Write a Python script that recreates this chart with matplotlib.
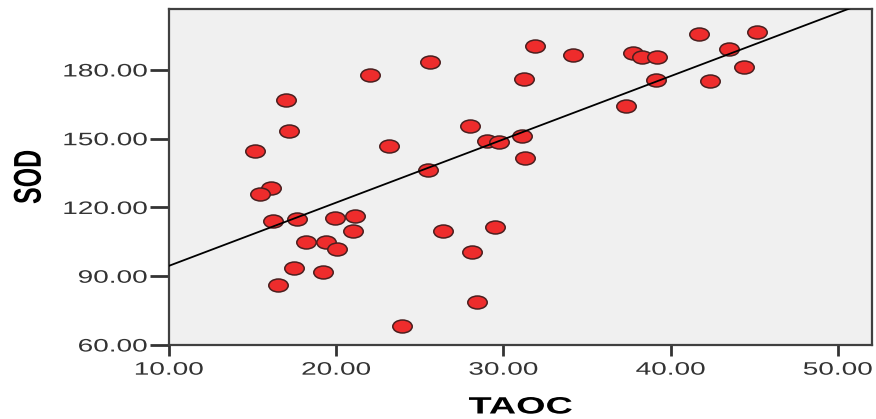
import numpy as np
import matplotlib
matplotlib.use("Agg")
import matplotlib.pyplot as plt
import matplotlib.patheffects as pe
from matplotlib.path import Path
from matplotlib.transforms import Affine2D

# ---- data ----
taoc = [17.00, 17.18, 15.14, 16.10, 15.44, 16.22, 17.66, 19.93, 21.12, 21.00,
        18.19, 19.39, 20.05, 17.48, 19.21, 16.52, 37.75, 38.29, 39.19, 41.70,
        45.17, 43.49, 44.39, 39.13, 42.36, 37.33, 22.02, 25.61, 31.89, 34.16,
        31.23, 28.00, 23.16, 25.49, 29.02, 29.74, 31.11, 31.29, 23.94, 26.39,
        29.50, 28.12, 28.42]
sod = [166.9, 153.4, 144.6, 128.5, 125.9, 114.1, 115.0, 115.4, 116.3, 109.7,
       104.9, 104.9, 101.9, 93.6, 91.8, 86.2, 187.4, 185.7, 185.7, 195.7,
       196.6, 189.1, 181.3, 175.6, 175.2, 164.3, 177.8, 183.5, 190.5, 186.5,
       176.1, 155.5, 146.8, 136.4, 149.0, 148.6, 151.2, 141.6, 68.3, 109.7,
       111.5, 100.6, 78.8]
x_ticks = [10, 20, 30, 40, 50]
y_ticks = [60, 90, 120, 150, 180]
x_label = "TAOC"
y_label = "SOD"

STRETCH = 1.55


class Stretch(pe.AbstractPathEffect):
    """Stretch glyph paths (reference image is horizontally stretched)."""
    def __init__(self, sx=1.0, sy=1.0, anchor="center"):
        super().__init__()
        self.sx, self.sy, self.anchor = sx, sy, anchor

    def draw_path(self, renderer, gc, tpath, affine, rgbFace=None):
        ext = tpath.get_extents()
        if self.anchor == "right":
            px = ext.x1
        elif self.anchor == "left":
            px = ext.x0
        else:
            px = 0.5 * (ext.x0 + ext.x1)
        py = 0.5 * (ext.y0 + ext.y1)
        t = Affine2D().translate(-px, -py).scale(self.sx, self.sy).translate(px, py)
        renderer.draw_path(gc, tpath, t + affine, rgbFace)


plt.rcParams['font.family'] = ['Liberation Sans', 'DejaVu Sans']

fig = plt.figure(figsize=(8.76, 4.19), dpi=100)
W, H = 876, 419
L, R, T, B = 169, 872, 9, 345
ax = fig.add_axes([L / W, (H - B) / H, (R - L) / W, (B - T) / H])
ax.set_facecolor("#F0F0F0")

ax.set_xlim(10, 10 + (R - L) / 16.72)
ax.set_ylim(60, 60 + (B - T) / 2.292)

# regression line
slope, intercept = np.polyfit(taoc, sod, 1)
xs = np.array(ax.get_xlim())
ax.plot(xs, intercept + slope * xs, color="black", lw=1.3, zorder=4)

# elliptical markers (reference is stretched horizontally)
ell = Path.unit_circle().transformed(Affine2D().scale(1.5, 1.0))
ax.plot(taoc, sod, linestyle="none", marker=ell, markersize=14.0,
        markerfacecolor="#EE2C2C", markeredgecolor="#4A1F1F",
        markeredgewidth=1.1, zorder=3)

ax.set_xticks(x_ticks)
ax.set_yticks(y_ticks)
ax.set_xticklabels([f"{v:.2f}" for v in x_ticks])
ax.set_yticklabels([f"{v:.2f}" for v in y_ticks])

for s in ax.spines.values():
    s.set_color("#404040")
    s.set_linewidth(1.6)

ax.tick_params(axis="x", direction="out", length=8, width=2.0, color="#333333",
               labelsize=13, labelcolor="#333333", pad=4)
ax.tick_params(axis="y", direction="out", length=13.5, width=2.0, color="#333333",
               labelsize=13, labelcolor="#333333", pad=2)

ax.set_xlabel(x_label, fontsize=17, fontweight="bold", va="center", ha="center")
ax.xaxis.set_label_coords(0.5, (B - 407) / (B - T))
ax.set_ylabel(y_label, fontsize=18, fontweight="bold", va="center", ha="center",
              rotation=90)
ax.yaxis.set_label_coords((29 - L) / (R - L), 0.5)

fig.canvas.draw()
for lbl in ax.get_xticklabels():
    lbl.set_path_effects([Stretch(sx=STRETCH, anchor="center")])
for lbl in ax.get_yticklabels():
    lbl.set_path_effects([Stretch(sx=STRETCH, anchor="right")])
ax.xaxis.label.set_path_effects([Stretch(sx=1.6, anchor="center")])
ax.yaxis.label.set_path_effects([Stretch(sy=STRETCH, anchor="center")])

fig.savefig("out.png", dpi=100)
